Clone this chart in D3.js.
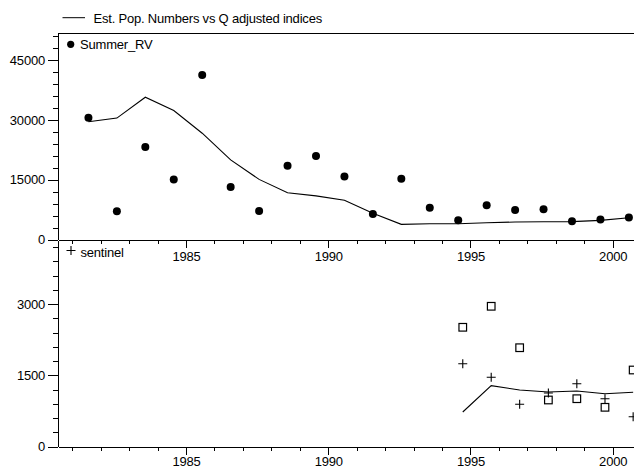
<!DOCTYPE html>
<html>
<head>
<meta charset="utf-8">
<script src="https://cdn.jsdelivr.net/npm/d3@7"></script>
<style>
  html, body { margin: 0; padding: 0; background: #fff; }
  svg { display: block; }
  text { font-family: "Liberation Sans", Arial, sans-serif; font-size: 13px; fill: #000; letter-spacing: -0.2px; }
</style>
</head>
<body>
<svg id="chart" width="634" height="470"></svg>
<script>
// ---- data ----
const summerYears = [1981.57, 1982.57, 1983.57, 1984.57, 1985.57, 1986.57, 1987.57, 1988.57, 1989.57, 1990.57,
                     1991.57, 1992.57, 1993.57, 1994.57, 1995.57, 1996.57, 1997.57, 1998.57, 1999.57, 2000.57];
const summerRV = [30600, 7100, 23250, 15100, 41300, 13200, 7150, 18550, 21000, 15800,
                  6400, 15250, 8000, 4850, 8600, 7400, 7600, 4600, 5000, 5500];
const estPopTop = [29600, 30500, 35750, 32400, 26700, 20000, 15100, 11750, 10950, 9850,
                   6600, 3800, 3950, 3970, 4200, 4400, 4450, 4500, 4800, 5450];

const sentYears = [1994.73, 1995.73, 1996.73, 1997.74, 1998.74, 1999.73, 2000.72];
const sentinel = [1747, 1460, 892, 1130, 1326, 1010, 631];
const squares = [2513, 2955, 2083, 983, 1010, 829, 1614];
const estPopBottom = [730, 1284, 1193, 1151, 1172, 1115, 1145];

const yearTicks = [1985, 1990, 1995, 2000];
const topYTicks = [0, 15000, 30000, 45000];
const bottomYTicks = [0, 1500, 3000];

const titleLegend = "Est. Pop. Numbers vs Q adjusted indices";
const summerLabel = "Summer_RV";
const sentinelLabel = "sentinel";

// ---- layout ----
const svg = d3.select("#chart");
const left = 58, right = 634;
const topY0 = 239.5, topY1 = 33.3;
const botY0 = 446.7, botY1 = 240;

const x = d3.scaleLinear().domain([1980.5, 2000.75]).range([left, right]);
const yTop = d3.scaleLinear().domain([0, 51800]).range([topY0, topY1]);
const yBot = d3.scaleLinear().domain([0, 4350]).range([botY0, botY1]);

function styleAxis(g) {
  g.selectAll("path, line").attr("stroke", "#000").attr("stroke-width", 1).attr("shape-rendering", "crispEdges");
  g.selectAll("text").attr("font-family", null).attr("font-size", null).style("font-size", "13px").style("fill", "#000");
}

// top frame line
svg.append("line").attr("x1", left).attr("x2", right).attr("y1", topY1).attr("y2", topY1)
  .attr("stroke", "#000").attr("shape-rendering", "crispEdges");

// top y axis
svg.append("g").attr("transform", `translate(${left},0)`)
  .call(d3.axisLeft(yTop).tickValues(d3.range(0, 51800, 3000)).tickSize(5).tickSizeOuter(0).tickFormat(""))
  .call(styleAxis);
svg.append("g").attr("transform", `translate(${left},0)`)
  .call(d3.axisLeft(yTop).tickValues(topYTicks).tickSize(10).tickSizeOuter(0).tickPadding(3).tickFormat(d3.format("d")))
  .call(styleAxis).call(g => g.select(".domain").remove());

// bottom y axis
svg.append("g").attr("transform", `translate(${left},0)`)
  .call(d3.axisLeft(yBot).tickValues(d3.range(0, 4350, 300)).tickSize(5).tickSizeOuter(0).tickFormat(""))
  .call(styleAxis);
svg.append("g").attr("transform", `translate(${left},0)`)
  .call(d3.axisLeft(yBot).tickValues(bottomYTicks).tickSize(10).tickSizeOuter(0).tickPadding(3).tickFormat(d3.format("d")))
  .call(styleAxis).call(g => g.select(".domain").remove());

// x axes
function xAxes(yPos, pad) {
  svg.append("g").attr("transform", `translate(0,${yPos})`)
    .call(d3.axisBottom(x).tickValues(d3.range(1981, 2001)).tickSize(4).tickSizeOuter(0).tickFormat(""))
    .call(styleAxis);
  svg.append("g").attr("transform", `translate(0,${yPos})`)
    .call(d3.axisBottom(x).tickValues(yearTicks).tickSize(8).tickSizeOuter(0).tickPadding(pad).tickFormat(d3.format("d")))
    .call(styleAxis).call(g => g.select(".domain").remove());
}
xAxes(240, 4);
xAxes(botY0, 2);

// top panel: line and dots
const lineTop = d3.line().x((d, i) => x(summerYears[i])).y(d => yTop(d));
svg.append("path").datum(estPopTop).attr("d", lineTop)
  .attr("fill", "none").attr("stroke", "#000").attr("stroke-width", 1.1);
svg.append("g").selectAll("circle").data(summerRV).join("circle")
  .attr("cx", (d, i) => x(summerYears[i])).attr("cy", d => yTop(d)).attr("r", 4).attr("fill", "#000");

// bottom panel
const lineBot = d3.line().x((d, i) => x(sentYears[i])).y(d => yBot(d));
svg.append("path").datum(estPopBottom).attr("d", lineBot)
  .attr("fill", "none").attr("stroke", "#000").attr("stroke-width", 1.1);
svg.append("g").selectAll("rect").data(squares).join("rect")
  .attr("x", (d, i) => x(sentYears[i]) - 3.8).attr("y", d => yBot(d) - 3.8)
  .attr("width", 7.6).attr("height", 7.6)
  .attr("fill", "none").attr("stroke", "#000").attr("stroke-width", 1.2);
const plus = d3.symbol().type(d3.symbolCross);
svg.append("g").selectAll("path").data(sentinel).join("path")
  .attr("transform", (d, i) => `translate(${x(sentYears[i])},${yBot(d)})`)
  .attr("d", "M-4.5,0H4.5M0,-4.5V4.5")
  .attr("fill", "none").attr("stroke", "#000").attr("stroke-width", 1.1);

// legends
svg.append("line").attr("x1", 62.5).attr("x2", 85).attr("y1", 17.7).attr("y2", 17.7).attr("stroke", "#000");
svg.append("text").attr("x", 93.5).attr("y", 22.5).text(titleLegend);
svg.append("circle").attr("cx", 70.7).attr("cy", 44.3).attr("r", 3.6).attr("fill", "#000");
svg.append("text").attr("x", 80).attr("y", 49).text(summerLabel);
svg.append("path").attr("transform", "translate(71,250.5)").attr("d", "M-4.5,0H4.5M0,-4.5V4.5")
  .attr("stroke", "#000").attr("stroke-width", 1.1);
svg.append("text").attr("x", 80.5).attr("y", 256.5).text(sentinelLabel);
</script>
</body>
</html>
